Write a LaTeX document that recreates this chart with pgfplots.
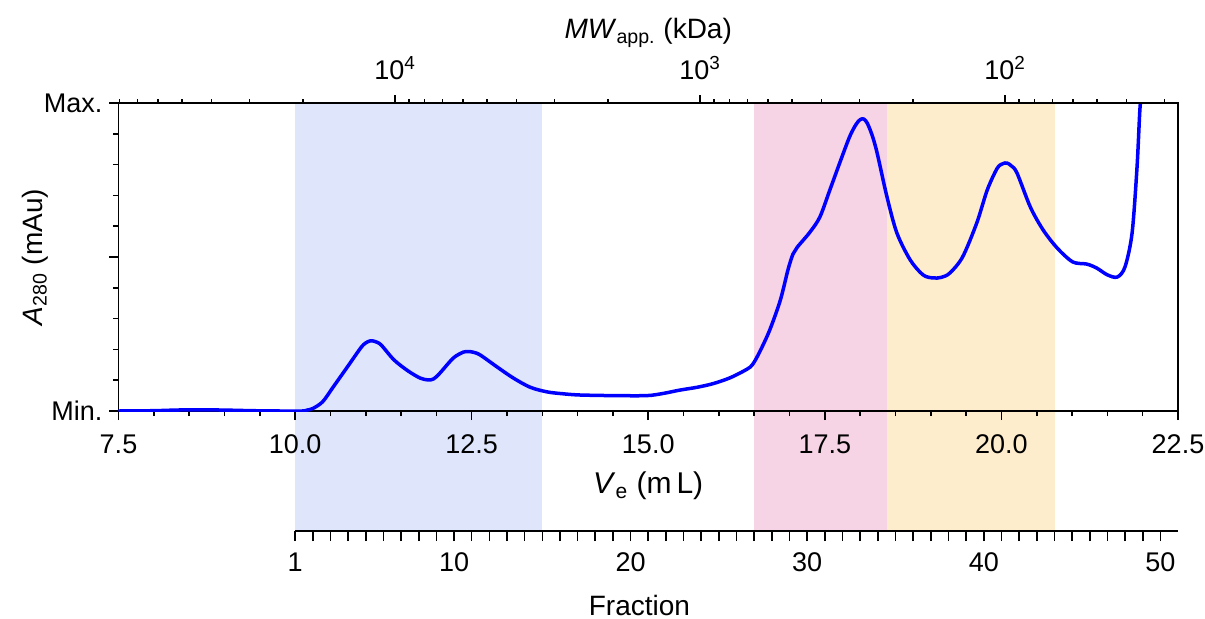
\documentclass[border=0pt]{standalone}
\usepackage{fontspec}
\setmainfont{Liberation Sans}
\usepackage{pgfplots}
\pgfplotsset{compat=1.18}
\definecolor{shBlue}{RGB}{223,230,252}
\definecolor{shPink}{RGB}{246,211,229}
\definecolor{shYellow}{RGB}{254,237,205}
\definecolor{curveblue}{RGB}{0,0,255}

\pgfplotstableread{
ve a
7.50 0.000
8.00 0.001
8.30 0.003
8.60 0.004
9.00 0.003
9.40 0.001
9.80 0.000
10.10 0.000
10.17 0.003
10.25 0.008
10.39 0.030
10.54 0.078
10.74 0.143
10.93 0.205
11.00 0.221
11.07 0.228
11.14 0.225
11.22 0.214
11.40 0.166
11.60 0.130
11.77 0.107
11.88 0.101
11.96 0.104
12.05 0.123
12.24 0.172
12.38 0.191
12.45 0.193
12.52 0.191
12.62 0.182
12.86 0.143
13.09 0.107
13.33 0.077
13.57 0.062
13.79 0.056
14.03 0.052
14.50 0.050
14.98 0.050
15.21 0.057
15.45 0.068
15.69 0.077
15.92 0.089
16.16 0.108
16.40 0.136
16.48 0.152
16.58 0.193
16.72 0.263
16.87 0.360
16.98 0.460
17.05 0.510
17.11 0.532
17.29 0.581
17.43 0.630
17.57 0.717
17.71 0.805
17.85 0.890
17.94 0.930
18.00 0.946
18.05 0.948
18.10 0.935
18.17 0.895
18.24 0.838
18.38 0.695
18.52 0.578
18.71 0.490
18.89 0.442
19.03 0.432
19.15 0.434
19.27 0.448
19.45 0.500
19.65 0.610
19.80 0.718
19.94 0.788
20.02 0.803
20.08 0.805
20.14 0.796
20.22 0.773
20.41 0.662
20.59 0.588
20.79 0.529
21.01 0.484
21.21 0.477
21.35 0.464
21.50 0.442
21.64 0.435
21.75 0.468
21.85 0.578
21.92 0.792
21.96 0.977
21.99 1.050
}\chrom

\pgfplotsset{
  every tick label/.append style={font=\fontsize{13.5}{16}\selectfont},
  every axis label/.append style={font=\fontsize{14}{17}\selectfont},
  every tick/.style={black, line width=0.8pt},
  axis line style={line width=0.8pt},
  /pgf/number format/assume math mode=true,
}

\begin{document}
\begin{tikzpicture}
\useasboundingbox (-59.25pt,-103.5pt) rectangle (543.25pt,205.5pt);
% shaded fraction regions
\begin{axis}[at={(0pt,-60pt)}, anchor=south west, scale only axis,
  width=529.75pt, height=214pt, xmin=7.5, xmax=22.5, ymin=0, ymax=1, hide axis]
\addplot[fill=shBlue, draw=none] coordinates {(10,0) (13.5,0) (13.5,1) (10,1)} -- cycle;
\addplot[fill=shPink, draw=none] coordinates {(16.5,0) (18.38,0) (18.38,1) (16.5,1)} -- cycle;
\addplot[fill=shYellow, draw=none] coordinates {(18.38,0) (20.76,0) (20.76,1) (18.38,1)} -- cycle;
\end{axis}
% fraction axis
\begin{axis}[at={(88.3pt,-60pt)}, anchor=south west, scale only axis,
  width=441.46pt, height=10pt, xmin=1, xmax=51, ymin=0, ymax=1,
  axis x line*=bottom, axis y line=none,
  xtick={1,10,20,30,40,50}, minor xtick={2,...,50},
  x tick label style={yshift=-2.5pt},
  tick align=outside, major tick length=5pt, minor tick length=5pt,
  xlabel={Fraction},
  xlabel style={at={(axis description cs:0.39,0)}, anchor=center, yshift=-37pt}]
\addplot[draw=none] coordinates {(1,0) (51,0)};
\end{axis}
% main axis
\begin{axis}[name=main, at={(0pt,0pt)}, anchor=south west, scale only axis,
  width=529.75pt, height=154pt, xmin=7.5, xmax=22.5, ymin=0, ymax=1,
  xtick={7.5,10,12.5,15,17.5,20,22.5}, minor x tick num=4,
  x tick label style={yshift=-4pt, /pgf/number format/fixed, /pgf/number format/fixed zerofill, /pgf/number format/precision=1},
  xtick pos=bottom, ytick pos=left,
  ytick={0,0.5,1}, yticklabels={Min.,,Max.},
  minor ytick={0.1,0.2,0.3,0.4,0.6,0.7,0.8,0.9},
  tick align=outside, major tick length=4.5pt, minor tick length=2.5pt,
  xlabel={\textit{V}\textsubscript{e} (m\,L)},
  xlabel style={at={(axis description cs:0.5,0)}, anchor=center, yshift=-37.5pt, font=\fontsize{15}{18}\selectfont},
  ylabel={\textit{A}\textsubscript{280} (mAu)},
  ylabel style={at={(axis description cs:0,0.5)}, anchor=center, yshift=41.75pt}]
\addplot[curveblue, line width=1.75pt, smooth, tension=0.5] table[x=ve, y=a] {\chrom};
\end{axis}
% apparent molecular weight axis
\begin{axis}[at={(0pt,0pt)}, anchor=south west, scale only axis,
  width=529.75pt, height=154pt, xmode=log, x dir=reverse,
  xmin=27.1, xmax=80700, ymin=0, ymax=1,
  axis x line*=top, axis y line=none,
  xtick={100,1000,10000},
  xticklabels={10\textsuperscript{2},10\textsuperscript{3},10\textsuperscript{4}},
  x tick label style={yshift=4pt},
  minor xtick={30,40,50,60,70,80,90,200,300,400,500,600,700,800,900,2000,3000,4000,5000,6000,7000,8000,9000,20000,30000,40000,50000,60000,70000,80000},
  tick align=outside, major tick length=4pt, minor tick length=2pt,
  xlabel={\textit{MW}\textsubscript{app.} (kDa)},
  xlabel style={at={(axis description cs:0.5,1)}, anchor=center, yshift=35pt}]
\addplot[draw=none] coordinates {(100,0) (1000,0)};
\end{axis}
\end{tikzpicture}
\end{document}
